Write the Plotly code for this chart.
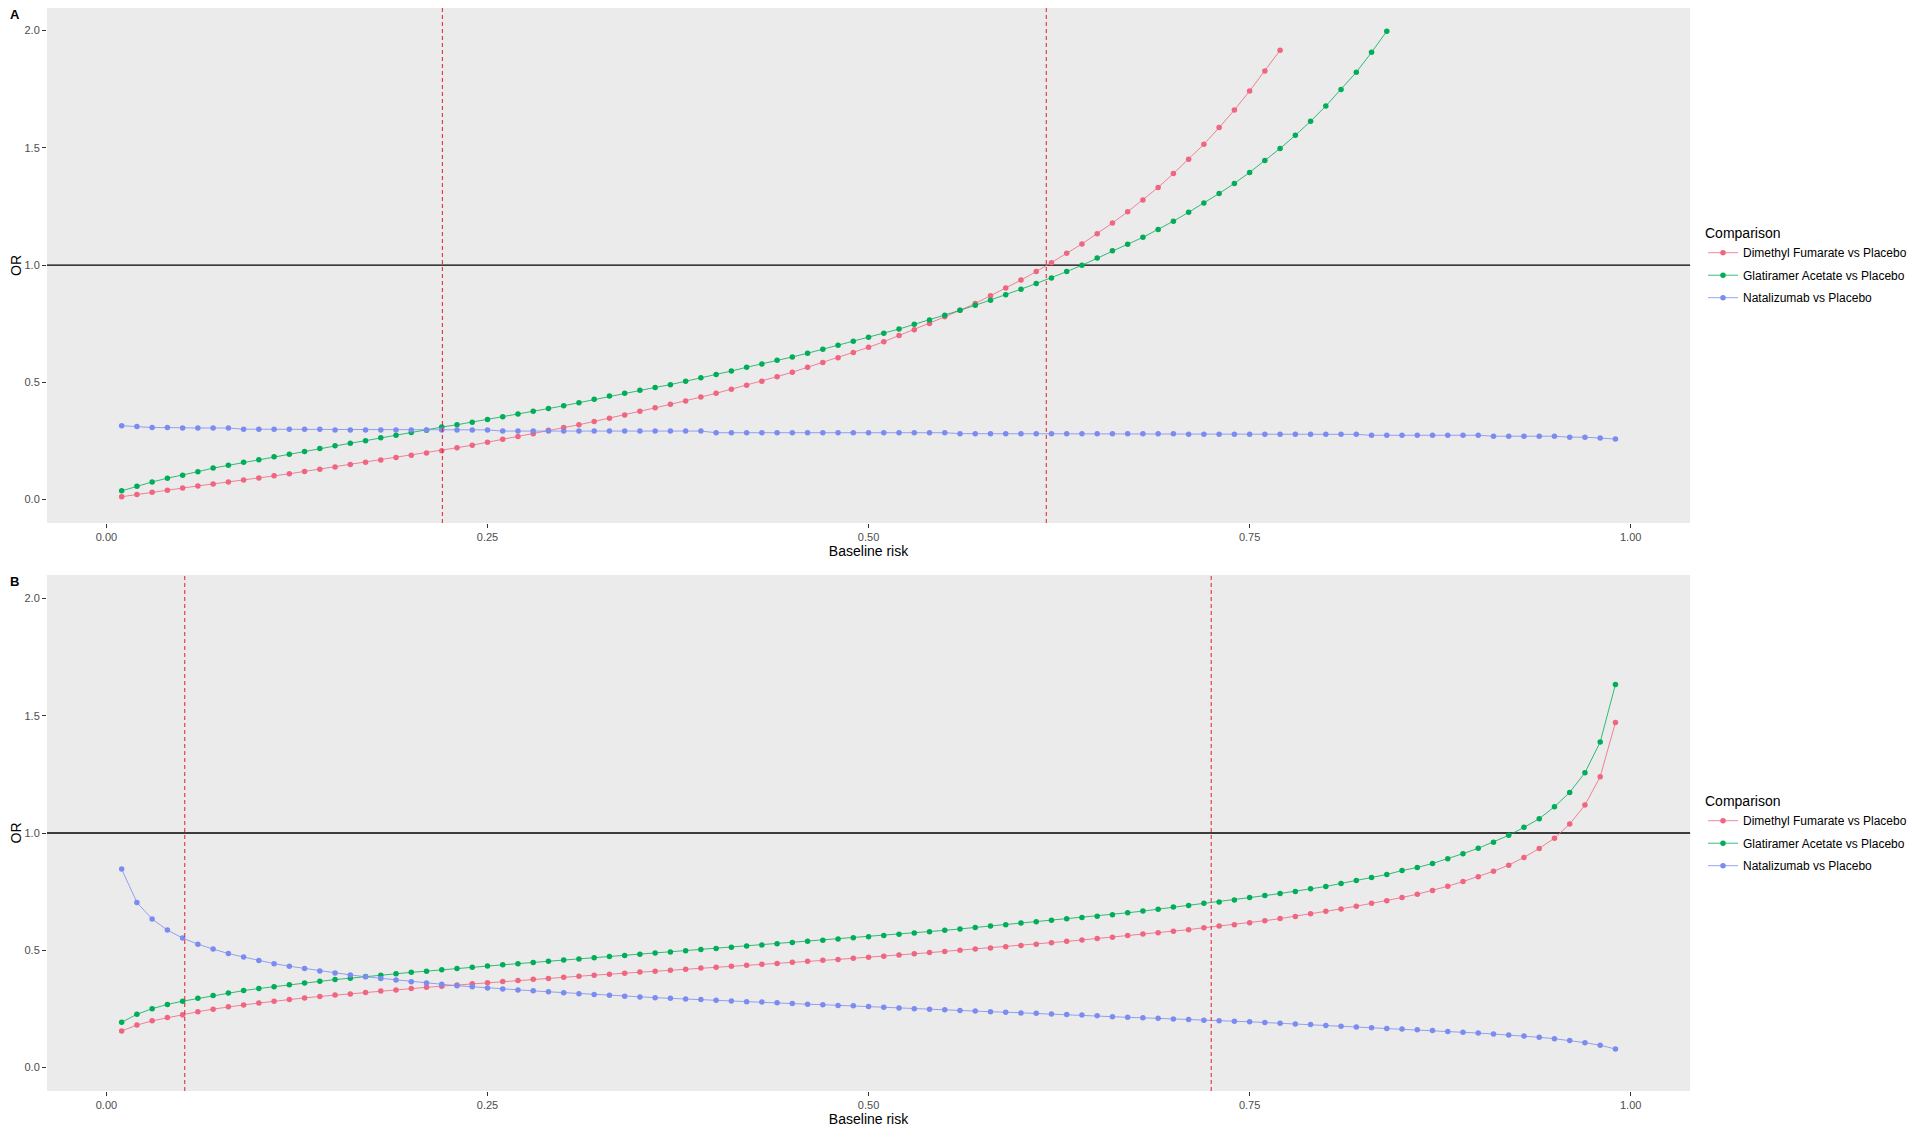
import plotly.graph_objects as go

# baseline risk grid (x axis of every curve)
BASELINE_RISK = [
    0.01, 0.02, 0.03, 0.04, 0.05, 0.06, 0.07, 0.08, 0.09, 0.10,
    0.11, 0.12, 0.13, 0.14, 0.15, 0.16, 0.17, 0.18, 0.19, 0.20,
    0.21, 0.22, 0.23, 0.24, 0.25, 0.26, 0.27, 0.28, 0.29, 0.30,
    0.31, 0.32, 0.33, 0.34, 0.35, 0.36, 0.37, 0.38, 0.39, 0.40,
    0.41, 0.42, 0.43, 0.44, 0.45, 0.46, 0.47, 0.48, 0.49, 0.50,
    0.51, 0.52, 0.53, 0.54, 0.55, 0.56, 0.57, 0.58, 0.59, 0.60,
    0.61, 0.62, 0.63, 0.64, 0.65, 0.66, 0.67, 0.68, 0.69, 0.70,
    0.71, 0.72, 0.73, 0.74, 0.75, 0.76, 0.77, 0.78, 0.79, 0.80,
    0.81, 0.82, 0.83, 0.84, 0.85, 0.86, 0.87, 0.88, 0.89, 0.90,
    0.91, 0.92, 0.93, 0.94, 0.95, 0.96, 0.97, 0.98, 0.99,
]

COMPARISONS = [
    "Dimethyl Fumarate vs Placebo",
    "Glatiramer Acetate vs Placebo",
    "Natalizumab vs Placebo",
]
COLORS = ["#F0657F", "#00AD58", "#7B8CF0"]

# Panel A (OR values)
A_DMF = [
    0.012, 0.022, 0.031, 0.040, 0.049, 0.058, 0.066, 0.075, 0.083, 0.092,
    0.101, 0.110, 0.120, 0.129, 0.139, 0.149, 0.159, 0.169, 0.179, 0.189,
    0.198, 0.208, 0.221, 0.232, 0.244, 0.257, 0.269, 0.281, 0.295, 0.307,
    0.319, 0.333, 0.347, 0.360, 0.376, 0.391, 0.406, 0.420, 0.437, 0.453,
    0.470, 0.487, 0.504, 0.524, 0.543, 0.564, 0.584, 0.605, 0.627, 0.649,
    0.673, 0.699, 0.724, 0.751, 0.779, 0.807, 0.836, 0.869, 0.902, 0.936,
    0.972, 1.010, 1.050, 1.090, 1.133, 1.179, 1.227, 1.277, 1.331, 1.390,
    1.451, 1.515, 1.586, 1.661, 1.742, 1.827, 1.916,
]
A_GA = [
    0.037, 0.057, 0.075, 0.091, 0.104, 0.119, 0.134, 0.146, 0.159, 0.170,
    0.182, 0.193, 0.205, 0.218, 0.229, 0.240, 0.251, 0.263, 0.274, 0.286,
    0.296, 0.309, 0.319, 0.330, 0.341, 0.353, 0.365, 0.376, 0.388, 0.400,
    0.413, 0.428, 0.442, 0.453, 0.466, 0.478, 0.490, 0.504, 0.519, 0.533,
    0.548, 0.564, 0.578, 0.594, 0.608, 0.624, 0.641, 0.658, 0.675, 0.692,
    0.709, 0.727, 0.747, 0.766, 0.786, 0.807, 0.828, 0.850, 0.873, 0.897,
    0.921, 0.945, 0.972, 0.999, 1.030, 1.061, 1.089, 1.118, 1.152, 1.187,
    1.225, 1.264, 1.305, 1.348, 1.395, 1.446, 1.497, 1.553, 1.613, 1.678,
    1.749, 1.822, 1.907, 1.997,
]
A_NAT = [
    0.315, 0.311, 0.307, 0.307, 0.305, 0.305, 0.305, 0.305, 0.300, 0.300,
    0.300, 0.300, 0.300, 0.300, 0.297, 0.297, 0.297, 0.297, 0.297, 0.297,
    0.297, 0.297, 0.297, 0.297, 0.297, 0.292, 0.292, 0.292, 0.292, 0.292,
    0.292, 0.292, 0.292, 0.292, 0.292, 0.292, 0.292, 0.292, 0.292, 0.285,
    0.285, 0.285, 0.285, 0.285, 0.285, 0.285, 0.285, 0.285, 0.285, 0.285,
    0.285, 0.285, 0.285, 0.285, 0.285, 0.281, 0.281, 0.281, 0.281, 0.281,
    0.281, 0.281, 0.281, 0.281, 0.281, 0.281, 0.281, 0.281, 0.281, 0.281,
    0.278, 0.278, 0.278, 0.278, 0.278, 0.278, 0.278, 0.278, 0.278, 0.278,
    0.278, 0.278, 0.274, 0.274, 0.274, 0.274, 0.274, 0.274, 0.274, 0.274,
    0.270, 0.270, 0.270, 0.270, 0.270, 0.266, 0.266, 0.262, 0.258,
]

# Panel B
B_DMF = [
    0.156, 0.181, 0.199, 0.213, 0.225, 0.238, 0.249, 0.259, 0.267, 0.275,
    0.283, 0.290, 0.297, 0.303, 0.309, 0.314, 0.320, 0.326, 0.331, 0.337,
    0.342, 0.347, 0.352, 0.357, 0.362, 0.367, 0.371, 0.376, 0.380, 0.385,
    0.389, 0.394, 0.398, 0.402, 0.407, 0.411, 0.415, 0.419, 0.424, 0.428,
    0.432, 0.436, 0.440, 0.444, 0.449, 0.453, 0.457, 0.461, 0.466, 0.470,
    0.475, 0.480, 0.485, 0.490, 0.495, 0.500, 0.505, 0.510, 0.515, 0.520,
    0.526, 0.532, 0.538, 0.544, 0.550, 0.556, 0.563, 0.569, 0.575, 0.581,
    0.588, 0.596, 0.603, 0.609, 0.617, 0.626, 0.635, 0.644, 0.656, 0.666,
    0.676, 0.688, 0.700, 0.711, 0.725, 0.739, 0.755, 0.773, 0.793, 0.814,
    0.837, 0.863, 0.896, 0.934, 0.978, 1.038, 1.119, 1.240, 1.471,
]
B_GA = [
    0.193, 0.227, 0.251, 0.269, 0.283, 0.295, 0.307, 0.318, 0.328, 0.337,
    0.345, 0.353, 0.360, 0.368, 0.375, 0.381, 0.388, 0.394, 0.400, 0.406,
    0.411, 0.417, 0.422, 0.428, 0.433, 0.438, 0.443, 0.448, 0.453, 0.458,
    0.463, 0.468, 0.473, 0.478, 0.483, 0.488, 0.493, 0.498, 0.503, 0.508,
    0.513, 0.518, 0.523, 0.528, 0.533, 0.538, 0.543, 0.548, 0.553, 0.558,
    0.563, 0.568, 0.574, 0.579, 0.585, 0.591, 0.597, 0.603, 0.609, 0.616,
    0.622, 0.628, 0.634, 0.640, 0.645, 0.651, 0.660, 0.667, 0.675, 0.684,
    0.691, 0.700, 0.706, 0.714, 0.725, 0.733, 0.742, 0.751, 0.762, 0.772,
    0.785, 0.798, 0.810, 0.823, 0.840, 0.853, 0.870, 0.890, 0.912, 0.935,
    0.961, 0.990, 1.024, 1.061, 1.112, 1.173, 1.257, 1.388, 1.633,
]
B_NAT = [
    0.846, 0.704, 0.633, 0.586, 0.552, 0.526, 0.505, 0.486, 0.471, 0.456,
    0.443, 0.432, 0.422, 0.412, 0.403, 0.395, 0.387, 0.380, 0.373, 0.366,
    0.360, 0.355, 0.349, 0.344, 0.339, 0.335, 0.331, 0.327, 0.323, 0.319,
    0.315, 0.311, 0.308, 0.304, 0.301, 0.298, 0.295, 0.292, 0.290, 0.287,
    0.284, 0.281, 0.279, 0.276, 0.273, 0.270, 0.268, 0.265, 0.263, 0.260,
    0.257, 0.254, 0.251, 0.249, 0.246, 0.243, 0.241, 0.238, 0.236, 0.233,
    0.231, 0.228, 0.226, 0.224, 0.221, 0.217, 0.214, 0.212, 0.210, 0.207,
    0.205, 0.202, 0.200, 0.197, 0.195, 0.192, 0.189, 0.186, 0.183, 0.179,
    0.176, 0.173, 0.170, 0.167, 0.164, 0.161, 0.158, 0.154, 0.150, 0.147,
    0.143, 0.139, 0.134, 0.129, 0.123, 0.115, 0.106, 0.095, 0.079,
]

# red dashed reference lines (baseline risk)
A_VLINES = [0.2204, 0.6166]
B_VLINES = [0.0514, 0.7248]
OR_REF = 1.0

X_TICKS = [0.0, 0.25, 0.5, 0.75, 1.0]
X_TICKTEXT = ["0.00", "0.25", "0.50", "0.75", "1.00"]
Y_TICKS = [0.0, 0.5, 1.0, 1.5, 2.0]
Y_TICKTEXT = ["0.0", "0.5", "1.0", "1.5", "2.0"]

# the page body has an 8px margin, so the figure is 16px smaller and all
# pixel positions below are given relative to the figure (reference - 8)
W, H = 1904, 1121
FONT = "Liberation Sans, Arial, sans-serif"

fig = go.Figure()

panels = [
    ("x", "y", "legend", "a", [A_DMF, A_GA, A_NAT]),
    ("x2", "y2", "legend2", "b", [B_DMF, B_GA, B_NAT]),
]
for xa, ya, leg, tag, series in panels:
    for i, (name, color, vals) in enumerate(zip(COMPARISONS, COLORS, series)):
        fig.add_trace(
            go.Scatter(
                x=BASELINE_RISK[:len(vals)],
                y=vals,
                mode="lines+markers",
                name=name,
                xaxis=xa, yaxis=ya,
                legend=leg,
                legendgroup=f"{tag}{i}",
                line=dict(color=color, width=0.8),
                marker=dict(color=color, size=5.5),
            )
        )

# reference lines
for xref, yref, vlines in [("x", "y", A_VLINES), ("x2", "y2", B_VLINES)]:
    fig.add_shape(
        type="line", xref=f"{xref} domain", yref=yref,
        x0=0, x1=1, y0=OR_REF, y1=OR_REF,
        line=dict(color="black", width=1.3), layer="below",
    )
    for v in vlines:
        fig.add_shape(
            type="line", xref=xref, yref=f"{yref} domain",
            x0=v, x1=v, y0=0, y1=1,
            line=dict(color="#E01F2B", width=1, dash="4px,3px"),
        )

x_dom = [39 / W, 1683 / W]
dom_a = [1 - 515 / H, 1.0]
dom_b = [1 - 1083 / H, 1 - 567 / H]

def xaxis_style(domain, anchor):
    return dict(
        domain=domain, anchor=anchor, range=[-0.039, 1.039],
        tickvals=X_TICKS, ticktext=X_TICKTEXT,
        ticks="outside", ticklen=4, tickwidth=1, tickcolor="#333333",
        tickfont=dict(size=11, color="#4D4D4D"),
        showgrid=False, zeroline=False, showline=False,
        title=dict(text="Baseline risk", font=dict(size=14, color="black"), standoff=3),
        automargin=False,
    )

def yaxis_style(domain, anchor, top):
    return dict(
        domain=domain, anchor=anchor, range=[-0.1, top],
        tickvals=Y_TICKS, ticktext=Y_TICKTEXT,
        ticks="outside", ticklen=4, tickwidth=1, tickcolor="#333333",
        tickfont=dict(size=11, color="#4D4D4D"),
        showgrid=False, zeroline=False, showline=False,
        title=dict(text="OR", font=dict(size=14, color="black"), standoff=6),
        automargin=False,
    )

def legend_style(top_px):
    return dict(
        title=dict(text="Comparison", font=dict(size=14, color="black")),
        x=1696 / W, xanchor="left", y=1 - top_px / H, yanchor="top",
        font=dict(size=12, color="black"),
        bgcolor="rgba(0,0,0,0)", borderwidth=0,
        itemwidth=30, tracegroupgap=3.5,
    )

fig.update_layout(
    width=W, height=H,
    margin=dict(l=0, r=0, t=0, b=0),
    paper_bgcolor="white",
    plot_bgcolor="#EBEBEB",
    font=dict(family=FONT, color="black"),
    showlegend=True,
    xaxis=xaxis_style(x_dom, "y"),
    yaxis=yaxis_style(dom_a, "x", 2.096),
    xaxis2=xaxis_style(x_dom, "y2"),
    yaxis2=yaxis_style(dom_b, "x2", 2.1),
    legend=legend_style(212),
    legend2=legend_style(780),
    annotations=[
        dict(text="<b>A</b>", x=0, y=1 + 3 / H, xref="paper", yref="paper",
             xanchor="left", yanchor="top", showarrow=False, font=dict(size=13)),
        dict(text="<b>B</b>", x=0, y=1 - 564 / H, xref="paper", yref="paper",
             xanchor="left", yanchor="top", showarrow=False, font=dict(size=13)),
    ],
)

fig.write_html("out.html")
